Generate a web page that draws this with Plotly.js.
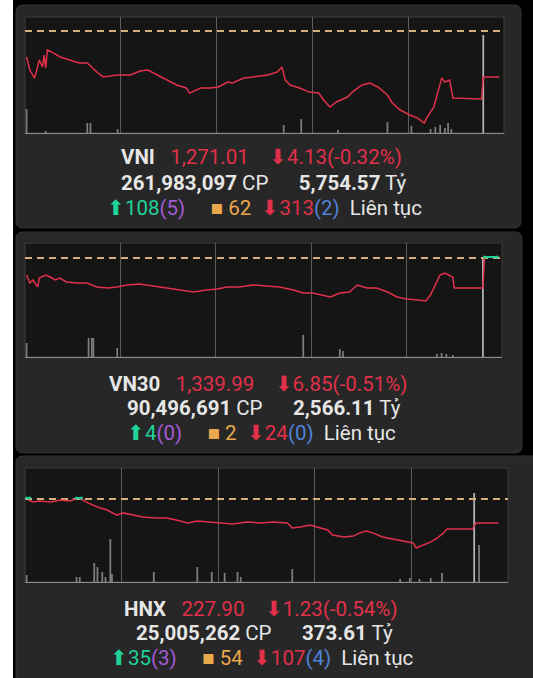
<!DOCTYPE html>
<html><head><meta charset="utf-8">
<script src="https://cdn.plot.ly/plotly-3.0.1.min.js"></script>
<style>html,body{margin:0;padding:0;background:#000;}#chart{width:533px;height:678px;}</style>
</head><body><div id="chart"></div>
<script>
// ---------- summary data ----------
const indexNames   = ['VNI', 'VN30', 'HNX'];
const closeValues  = [1271.01, 1339.99, 227.90];
const changeValues = [-4.13, -6.85, -1.23];
const changePct    = [-0.32, -0.51, -0.54];
const volumeCP     = [261983097, 90496691, 25005262];
const valueTy      = [5754.57, 2566.11, 373.61];
const advances     = [108, 4, 35];
const ceilings     = [5, 0, 3];
const unchanged    = [62, 2, 54];
const declines     = [313, 24, 107];
const floors       = [2, 0, 4];

// ---------- intraday series (minutes of trading session) ----------
const vniTime  = [1,3,6,9,11,12,13,14,18,22,28,34,39,45,49,58,66,72,77,83,89,95,101,103,110,116,121,127,130,137,143,152,158,161,163,166,172,178,184,187,191,195,202,205,211,216,221,227,230,235,241,246,250,252,256,259,261,263,266,268,286,287,297];
const vniPrice = [1273.56,1272.77,1272.28,1273.38,1272.95,1273.68,1272.89,1273.99,1273.80,1273.56,1273.38,1273.20,1273.20,1272.65,1272.35,1272.47,1272.47,1272.71,1272.77,1272.47,1272.16,1271.86,1271.68,1271.37,1271.68,1271.68,1271.74,1272.04,1271.98,1272.28,1272.35,1272.47,1272.65,1272.95,1272.16,1271.86,1271.68,1271.43,1271.37,1270.95,1270.52,1270.83,1271.13,1271.43,1271.86,1271.98,1271.74,1271.25,1270.77,1270.34,1270.04,1269.85,1269.55,1269.92,1270.52,1271.56,1272.28,1272.04,1272.16,1271.07,1271.01,1272.35,1272.35];
const vniVolTime = [1,13,39,41,58,162,173,196,227,242,254,257,260,263,265,267,287];
const vniVol     = [24,2,10,10,4,8,14,3,11,7,4,6,8,5,10,4,98];

const vn30Time  = [1,3,5,8,9,13,16,19,22,26,33,39,45,52,58,64,72,80,89,97,106,114,121,127,135,143,152,160,169,175,181,187,192,198,204,209,215,221,228,234,240,247,252,255,258,261,264,269,270,288,289,297];
const vn30Price = [1342.96,1341.13,1341.82,1340.22,1342.27,1342.96,1342.50,1341.82,1342.27,1341.36,1341.13,1341.13,1340.22,1339.99,1340.22,1340.68,1340.90,1340.45,1339.99,1339.53,1339.08,1339.53,1339.76,1340.22,1340.22,1340.68,1340.45,1340.22,1339.53,1338.85,1338.85,1338.39,1337.94,1338.85,1339.08,1340.68,1339.99,1339.99,1339.08,1337.94,1337.48,1337.25,1337.02,1338.39,1340.68,1342.96,1343.42,1342.50,1339.99,1339.99,1347.07,1347.07];
const vn30AboveTime  = [289,297];
const vn30AbovePrice = [1347.07,1347.07];
const vn30VolTime = [1,40,42,43,58,175,198,200,259,262,265,269,288];
const vn30Vol     = [14,19,19,19,9,22,8,6,3,4,3,2,100];

const hnxTime  = [2,5,9,16,22,28,33,36,39,45,51,57,61,67,73,82,88,94,101,107,113,121,129,138,146,154,163,166,171,177,181,188,191,198,204,208,212,216,222,229,235,241,243,247,252,256,260,262,278,280,294];
const hnxPrice = [229.09,229.01,229.05,229.01,229.09,229.05,229.17,229.09,228.97,228.80,228.68,228.47,228.56,228.47,228.39,228.35,228.35,228.27,228.15,228.23,228.19,228.15,228.11,228.19,228.15,228.19,228.15,227.94,227.98,228.06,227.98,227.86,227.65,227.57,227.61,227.74,227.82,227.74,227.57,227.49,227.41,227.33,227.12,227.24,227.37,227.53,227.74,227.90,227.90,228.15,228.15];
const hnxAboveTime  = [1,3,null,32,35];
const hnxAbovePrice = [229.17,229.17,null,229.17,229.17];
const hnxVolTime = [1,32,34,43,45,48,50,53,54,80,107,116,124,132,134,166,233,239,245,252,259,279,282];
const hnxVol     = [7,5,5,19,15,10,5,43,8,10,15,10,9,10,5,13,3,4,3,4,9,89,37];

// ---------- drawing ----------
const W = 533, H = 678;
const px = v => v / W, py = v => 1 - v / H;
const RED = '#e0304a', GREEN = '#1fd39a', PURPLE = '#a45ad6', ORANGE = '#eaa84c', BLUE = '#4f82d8', WHITE = '#e6e6e6';

function roundRect(x0, y0, x1, y1, r) {
  const X = px, Y = py;
  return `M${X(x0 + r)},${Y(y0)} L${X(x1 - r)},${Y(y0)} Q${X(x1)},${Y(y0)} ${X(x1)},${Y(y0 + r)} ` +
         `L${X(x1)},${Y(y1 - r)} Q${X(x1)},${Y(y1)} ${X(x1 - r)},${Y(y1)} L${X(x0 + r)},${Y(y1)} ` +
         `Q${X(x0)},${Y(y1)} ${X(x0)},${Y(y1 - r)} L${X(x0)},${Y(y0 + r)} Q${X(x0)},${Y(y0)} ${X(x0 + r)},${Y(y0)} Z`;
}

const panels = [
  {box: [16, 5, 521, 228],  plot: [25, 17, 504, 133],  volMax: 116, textY: [157, 183, 208], textX: [261, 264, 264]},
  {box: [16, 232, 522, 453], plot: [25, 243, 502, 357], volMax: 114, textY: [384, 408, 433], textX: [258, 264, 261]},
  {box: [16, 456, 540, 690], plot: [25, 468, 508, 582], volMax: 114, textY: [609, 633, 658], textX: [261, 264, 262]}
];
const series = [
  {t: vniTime, p: vniPrice, vt: vniVolTime, v: vniVol, at: [], ap: []},
  {t: vn30Time, p: vn30Price, vt: vn30VolTime, v: vn30Vol, at: vn30AboveTime, ap: vn30AbovePrice},
  {t: hnxTime, p: hnxPrice, vt: hnxVolTime, v: hnxVol, at: hnxAboveTime, ap: hnxAbovePrice}
];

const fmt = (v, d) => v.toLocaleString('en-US', {minimumFractionDigits: d, maximumFractionDigits: d});
const sp = n => '&nbsp;'.repeat(n);

const traces = [];
const layout = {
  width: W, height: H, margin: {l: 0, r: 0, t: 0, b: 0},
  paper_bgcolor: '#000', plot_bgcolor: 'rgba(0,0,0,0)', showlegend: false,
  font: {family: 'Roboto, Arial, sans-serif', color: WHITE},
  shapes: [
    {type: 'rect', xref: 'paper', yref: 'paper', x0: 0, x1: px(13), y0: 0, y1: 1, fillcolor: '#ffffff', line: {width: 0}, layer: 'below'}
  ],
  annotations: []
};

panels.forEach((pn, i) => {
  const n = i + 1;
  const xa = n === 1 ? 'xaxis' : 'xaxis' + n;
  const xr = n === 1 ? 'x' : 'x' + n;
  const yVolN = 2 * n - 1, yPrN = 2 * n;
  const yVolA = yVolN === 1 ? 'yaxis' : 'yaxis' + yVolN;
  const yVolR = yVolN === 1 ? 'y' : 'y' + yVolN;
  const yPrA = 'yaxis' + yPrN, yPrR = 'y' + yPrN;
  const [bx0, by0, bx1, by1] = pn.box;
  const [qx0, qy0, qx1, qy1] = pn.plot;
  const ref = closeValues[i] - changeValues[i];
  // price scale from reference (dashed) line and close level positions in the picture
  const refPx = [31, 258, 499][i], closePx = [99, 288, 529][i];
  const pxPerPt = (closePx - refPx) / (ref - closeValues[i]);
  const yTop = ref + (refPx - qy0) / pxPerPt, yBot = ref - (qy1 - refPx) / pxPerPt;

  layout.shapes.push({type: 'path', xref: 'paper', yref: 'paper', path: roundRect(bx0, by0, bx1, by1, 7),
    fillcolor: '#272727', line: {color: '#333333', width: 1}, layer: 'below'});
  layout.shapes.push({type: 'rect', xref: 'paper', yref: 'paper', x0: px(qx0), x1: px(qx1), y0: py(qy1), y1: py(qy0),
    fillcolor: '#151515', line: {color: '#3d3d3d', width: 1}, layer: 'below'});

  const dom = [px(qx0), px(qx1)];
  layout[xa] = {domain: dom, range: [0, 300], anchor: yVolR, tickvals: [60, 120, 180, 240], showticklabels: false,
    ticks: '', showgrid: true, gridcolor: '#5c5c5c', gridwidth: 1, zeroline: false,
    showline: true, linecolor: '#8c8c8c', linewidth: 1, fixedrange: true};
  layout[yVolA] = {domain: [py(qy1), py(qy0)], range: [0, pn.volMax], anchor: xr, showgrid: false, zeroline: false,
    showticklabels: false, ticks: '', fixedrange: true};
  layout[yPrA] = {overlaying: yVolR, anchor: xr, range: [yBot, yTop], showgrid: false, zeroline: false,
    showticklabels: false, ticks: '', fixedrange: true};

  const s = series[i];
  traces.push({type: 'bar', x: s.vt, y: s.v, xaxis: xr, yaxis: yVolR, width: 1.1,
    marker: {color: s.v.map(v => v > 50 ? '#b5b5b5' : '#7d7d7d'), line: {width: 0}}, hoverinfo: 'skip'});
  traces.push({type: 'scatter', mode: 'lines', x: [0, 300], y: [ref, ref], xaxis: xr, yaxis: yPrR,
    line: {color: '#d8b07c', width: 2, dash: '7px,5px'}, hoverinfo: 'skip'});
  traces.push({type: 'scatter', mode: 'lines', x: s.t, y: s.p, xaxis: xr, yaxis: yPrR,
    line: {color: RED, width: 1.5, shape: 'linear'}, hoverinfo: 'skip'});
  if (s.at.length) {
    traces.push({type: 'scatter', mode: 'lines+markers', x: s.at, y: s.ap, xaxis: xr, yaxis: yPrR,
      line: {color: GREEN, width: 2}, marker: {size: 3, color: GREEN}, connectgaps: false, hoverinfo: 'skip'});
  }

  const line1 = `<b>${indexNames[i]}</b>${sp(3)}<span style="color:${RED}">${fmt(closeValues[i], 2)}${sp(4)}⬇${fmt(Math.abs(changeValues[i]), 2)}(${fmt(changePct[i], 2)}%)</span>`;
  const line2 = `<b>${volumeCP[i].toLocaleString('en-US')}</b> CP${sp(6)}<b>${fmt(valueTy[i], 2)}</b> Tỷ`;
  const line3 = `<span style="color:${GREEN}">⬆${advances[i]}</span><span style="color:${PURPLE}">(${ceilings[i]})</span>${sp(5)}` +
    `<span style="color:${ORANGE}">■ ${unchanged[i]}</span>${sp(2)}<span style="color:${RED}">⬇${declines[i]}</span>` +
    `<span style="color:${BLUE}">(${floors[i]})</span>${sp(2)}Liên tục`;
  [line1, line2, line3].forEach((txt, k) => {
    layout.annotations.push({xref: 'paper', yref: 'paper', x: px(pn.textX[k]), y: py(pn.textY[k]),
      xanchor: 'center', yanchor: 'middle', showarrow: false, text: txt,
      font: {family: 'Roboto, Arial, sans-serif', size: 20.5, color: WHITE}});
  });
});

Plotly.newPlot('chart', traces, layout, {staticPlot: true, displayModeBar: false});
</script>
</body></html>
